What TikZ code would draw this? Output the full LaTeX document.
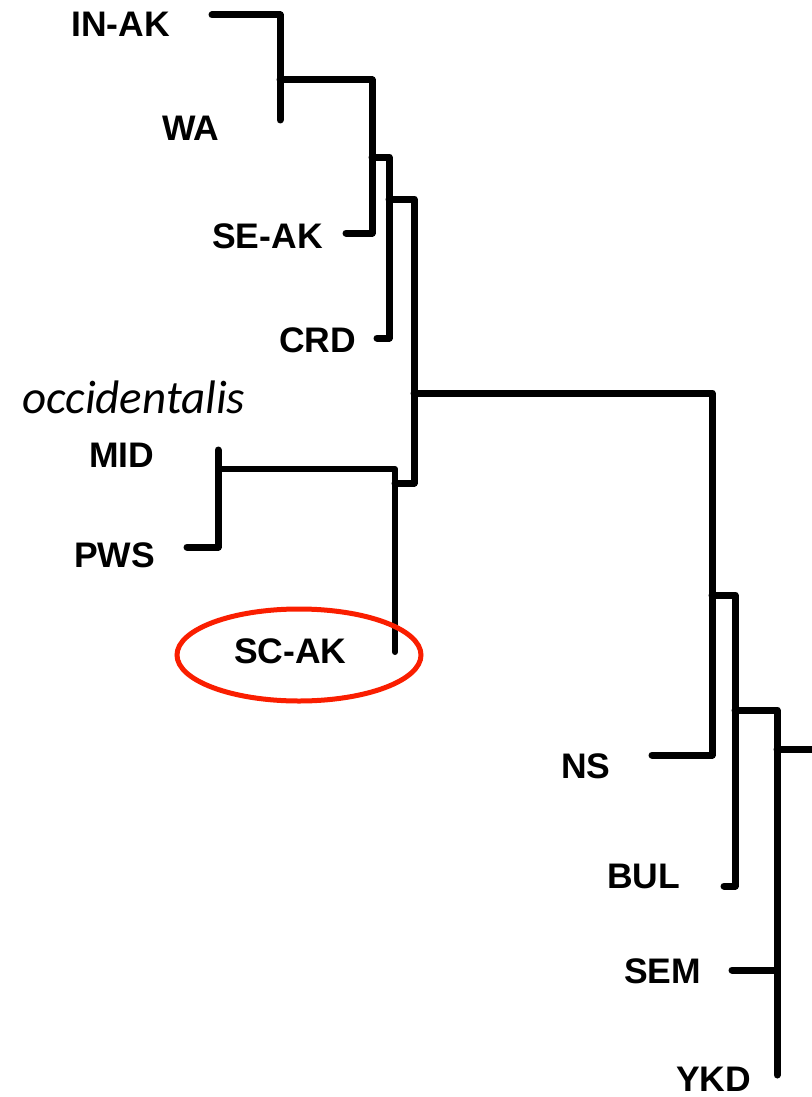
\documentclass[tikz,border=0pt]{standalone}
\usepackage{fontspec}
\setmainfont{Liberation Sans}
\newfontfamily\calibrifont{Carlito}
\definecolor{ovalred}{RGB}{250,30,0}
\begin{document}
\begin{tikzpicture}[x=1pt,y=-1pt,
  br/.style={line width=7pt,line cap=round,line join=round},
  leaf/.style={anchor=base west,inner sep=0pt,font=\fontsize{35.5}{40}\selectfont\bfseries}]
\useasboundingbox (0,0) rectangle (811,1097);
% leaf tips
\coordinate (tINAK) at (212,15);
\coordinate (tWA) at (280,120);
\coordinate (tSEAK) at (346,233);
\coordinate (tCRD) at (377,338);
\coordinate (tMID) at (218,450);
\coordinate (tPWS) at (187,547);
\coordinate (tSCAK) at (395,652);
\coordinate (tNS) at (652,755);
\coordinate (tBUL) at (724,886);
\coordinate (tSEM) at (732,970);
\coordinate (tYKD) at (777,1075);
% corners and branch points
\coordinate (a1) at (280,15);
\coordinate (n1) at (280,80);
\coordinate (a2) at (372,80);
\coordinate (a3) at (372,233);
\coordinate (n2) at (372,157);
\coordinate (a4) at (389,157);
\coordinate (a5) at (389,338);
\coordinate (n3) at (389,199);
\coordinate (a6) at (414,199);
\coordinate (a7) at (414,483);
\coordinate (n5) at (395,483);
\coordinate (n4) at (414,393);
\coordinate (a8) at (712,393);
\coordinate (a9) at (712,755);
\coordinate (a10) at (218,547);
\coordinate (n6) at (218,469);
\coordinate (a11) at (395,469);
\coordinate (n7) at (712,595);
\coordinate (a12) at (735,595);
\coordinate (a13) at (735,886);
\coordinate (n8) at (735,710);
\coordinate (a14) at (777,710);
\coordinate (n9) at (777,749);
\coordinate (n10) at (777,970);
\coordinate (rootend) at (815,749);
% branches
\draw[br] (tINAK) -- (a1) -- (tWA);
\draw[br] (n1) -- (a2) -- (a3) -- (tSEAK);
\draw[br] (n2) -- (a4) -- (a5) -- (tCRD);
\draw[br] (n3) -- (a6) -- (a7) -- (n5);
\draw[br] (n4) -- (a8) -- (a9) -- (tNS);
\draw[br] (tMID) -- (a10) -- (tPWS);
\draw[br,line width=6pt] (n6) -- (a11) -- (tSCAK);
\draw[br] (n7) -- (a12) -- (a13) -- (tBUL);
\draw[br] (n8) -- (a14) -- (tYKD);
\draw[br] (tSEM) -- (n10);
\draw[br] (n9) -- (rootend);
% labels
\node[leaf] (INAK) at (71,37) {IN-AK};
\node[leaf] (WA) at (162,140) {WA};
\node[leaf] (SEAK) at (212,248) {SE-AK};
\node[leaf] (CRD) at (279,352) {CRD};
\node[leaf] (MID) at (89,467) {MID};
\node[leaf] (PWS) at (74,567) {PWS};
\node[leaf] (SCAK) at (234,663) {SC-AK};
\node[leaf] (NS) at (561,778) {NS};
\node[leaf] (BUL) at (607,888) {BUL};
\node[leaf] (SEM) at (624,983) {SEM};
\node[leaf] (YKD) at (676,1091) {YKD};
\node[anchor=base west,inner sep=0pt,font=\calibrifont\itshape\fontsize{47}{52}\selectfont] (occ) at (22,413) {occidentalis};
% highlight oval
\draw[ovalred,line width=5pt] (299,655) ellipse [x radius=122, y radius=46];
\end{tikzpicture}
\end{document}
